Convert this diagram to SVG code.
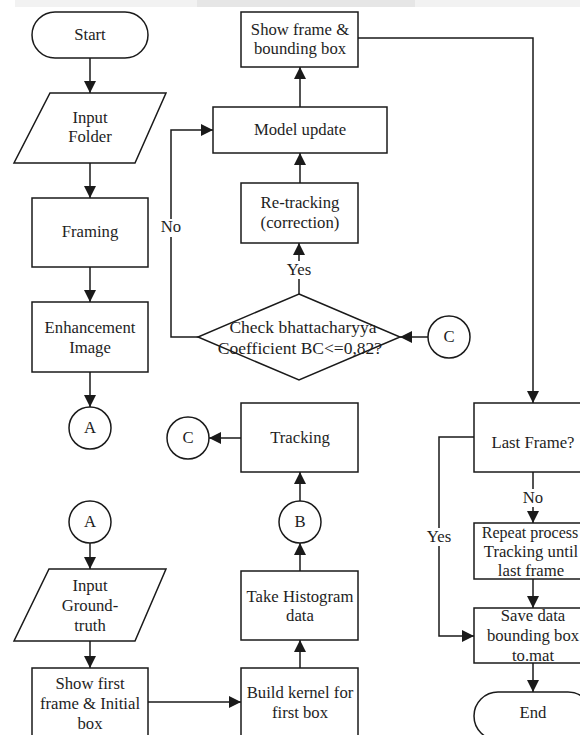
<svg xmlns="http://www.w3.org/2000/svg" width="580" height="735" viewBox="0 0 580 735">
<style>
.s{fill:#fff;stroke:#1a1a1a;stroke-width:1.5}
.c{fill:none;stroke:#1a1a1a;stroke-width:1.5}
text{font-size:16.7px;fill:#1e1e1e;text-anchor:middle}
.d{font-size:17.5px}
.r{font-size:16px}
.lb{fill:#fff;stroke:none}
</style>
<defs>
<marker id="ah" markerUnits="userSpaceOnUse" markerWidth="12" markerHeight="12" viewBox="0 0 12 12" refX="12" refY="6" orient="auto">
<path d="M0,0 L12,6 L0,12 Z" fill="#1a1a1a"/>
</marker>
</defs>
<rect x="0" y="0" width="580" height="735" fill="#fff"/>
<rect x="15" y="0" width="182" height="7" fill="#f2f2f2"/>
<rect x="197" y="0" width="218" height="7" fill="#e6e6e6"/>
<rect x="415" y="0" width="165" height="7" fill="#f2f2f2"/>
<g font-family="'Liberation Serif', 'DejaVu Serif', serif">
<g id="connectors">
<path class="c" d="M90,58 V93" marker-end="url(#ah)"/>
<path class="c" d="M90,163 V198" marker-end="url(#ah)"/>
<path class="c" d="M90,267 V302" marker-end="url(#ah)"/>
<path class="c" d="M90,372 V407" marker-end="url(#ah)"/>
<path class="c" d="M90,543 V569" marker-end="url(#ah)"/>
<path class="c" d="M90,641 V668" marker-end="url(#ah)"/>
<path class="c" d="M148,702 H241" marker-end="url(#ah)"/>
<path class="c" d="M300,668 V640" marker-end="url(#ah)"/>
<path class="c" d="M300,571 V543" marker-end="url(#ah)"/>
<path class="c" d="M300,501 V472" marker-end="url(#ah)"/>
<path class="c" d="M241,438 H209" marker-end="url(#ah)"/>
<path class="c" d="M428,337 H400" marker-end="url(#ah)"/>
<path class="c" d="M299,294 V243" marker-end="url(#ah)"/>
<path class="c" d="M198,337 H171 V130 H213" marker-end="url(#ah)"/>
<path class="c" d="M300,183 V153" marker-end="url(#ah)"/>
<path class="c" d="M300,107 V67" marker-end="url(#ah)"/>
<path class="c" d="M358,38 H533 V403" marker-end="url(#ah)"/>
<path class="c" d="M533,472 V523" marker-end="url(#ah)"/>
<path class="c" d="M533,579 V608" marker-end="url(#ah)"/>
<path class="c" d="M474,437 H439 V636 H474" marker-end="url(#ah)"/>
<path class="c" d="M533,663 V692" marker-end="url(#ah)"/>
<rect class="lb" x="285" y="261" width="28" height="18"/>
<text x="299" y="275">Yes</text>
<rect class="lb" x="160" y="219" width="22" height="18"/>
<text x="171" y="232">No</text>
<rect class="lb" x="522" y="489" width="22" height="18"/>
<text x="533" y="503">No</text>
<rect class="lb" x="426" y="528" width="26" height="18"/>
<text x="439" y="542">Yes</text>
</g>

<g id="start"><rect class="s" x="32" y="12" width="116" height="46" rx="23"/><text x="90" y="40">Start</text></g>
<g id="input-folder"><polygon class="s" points="50,93 166,93 135,163 14,163"/><text x="90" y="123">Input</text><text x="90" y="142">Folder</text></g>
<g id="framing"><rect class="s" x="32" y="198" width="116" height="69"/><text x="90" y="237">Framing</text></g>
<g id="enhancement"><rect class="s" x="32" y="302" width="116" height="70"/><text x="90" y="333">Enhancement</text><text x="90" y="353">Image</text></g>
<g id="conn-a1"><circle class="s" cx="90" cy="428" r="21"/><text x="90" y="433">A</text></g>
<g id="conn-a2"><circle class="s" cx="90" cy="522" r="21"/><text x="90" y="527">A</text></g>
<g id="input-gt"><polygon class="s" points="49,569 166,569 135,641 14,641"/><text x="90" y="591">Input</text><text x="90" y="611">Ground-</text><text x="90" y="631">truth</text></g>
<g id="show-first"><rect class="s" x="32" y="668" width="116" height="80"/><text x="90" y="689">Show first</text><text x="90" y="709">frame &amp; Initial</text><text x="90" y="729">box</text></g>
<g id="build-kernel"><rect class="s" x="241" y="668" width="117" height="80"/><text x="300" y="698">Build kernel for</text><text x="300" y="718">first box</text></g>
<g id="take-hist"><rect class="s" x="241" y="571" width="117" height="69"/><text x="300" y="602">Take Histogram</text><text x="300" y="621">data</text></g>
<g id="conn-b"><circle class="s" cx="300" cy="522" r="21"/><text x="300" y="527">B</text></g>
<g id="tracking"><rect class="s" x="241" y="403" width="117" height="69"/><text x="300" y="443">Tracking</text></g>
<g id="conn-c1"><circle class="s" cx="188" cy="438" r="21"/><text x="188" y="443">C</text></g>
<g id="check-bc"><polygon class="s" points="299,294 400,337 299,380 198,337"/><text class="d" x="303" y="333">Check bhattacharyya</text><text class="d" x="300" y="354">Coefficient BC&lt;=0,82?</text></g>
<g id="conn-c2"><circle class="s" cx="449" cy="337" r="21"/><text x="449" y="342">C</text></g>
<g id="retracking"><rect class="s" x="241" y="183" width="117" height="60"/><text x="300" y="208">Re-tracking</text><text x="300" y="228">(correction)</text></g>
<g id="model-update"><rect class="s" x="213" y="107" width="174" height="46"/><text x="300" y="135">Model update</text></g>
<g id="show-frame"><rect class="s" x="241" y="12" width="117" height="55"/><text x="300" y="35">Show frame &amp;</text><text x="300" y="54">bounding box</text></g>
<g id="last-frame"><rect class="s" x="474" y="403" width="118" height="69"/><text x="533" y="448">Last Frame?</text></g>
<g id="repeat"><rect class="s" x="474" y="523" width="118" height="56"/><text class="r" x="530" y="538">Repeat process</text><text x="531" y="557">Tracking until</text><text x="531" y="576">last frame</text></g>
<g id="save"><rect class="s" x="474" y="608" width="118" height="55"/><text x="533" y="621">Save data</text><text x="533" y="641">bounding box</text><text x="533" y="661">to.mat</text></g>
<g id="end"><rect class="s" x="474" y="692" width="118" height="48" rx="24"/><text x="533" y="718">End</text></g>
</g>
</svg>
